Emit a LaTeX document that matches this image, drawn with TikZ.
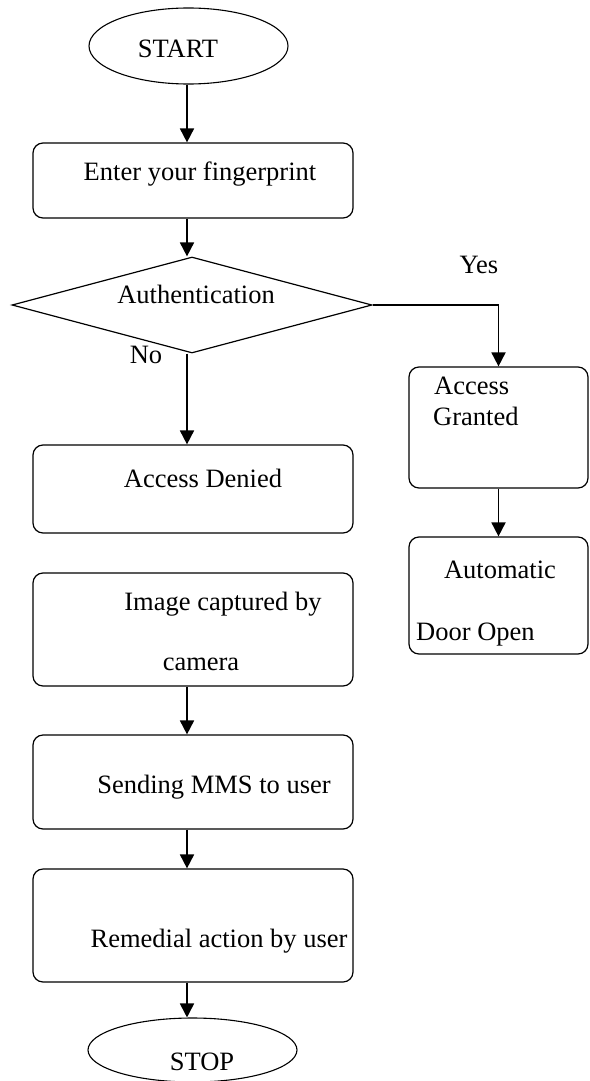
\documentclass[tikz,border=0pt]{standalone}
\usepackage{fontspec}
\setmainfont{Liberation Serif}
\usetikzlibrary{shapes.geometric,arrows.meta}
\tikzset{
  box/.style={draw, line width=1.2pt, rounded corners=10pt, inner sep=0pt},
  oval/.style={draw, ellipse, line width=1.1pt, inner sep=0pt},
  decision/.style={draw, diamond, line width=1.2pt, inner sep=0pt},
  txt/.style={font=\fontsize{26.5}{31}\selectfont, inner sep=0pt, anchor=base},
  txtl/.style={txt, anchor=base west},
  arr/.style={line width=1.8pt, -{Triangle[width=14pt,length=14pt]}},
}
\begin{document}
\begin{tikzpicture}[x=1pt,y=-1pt]
\useasboundingbox[fill=white] (0,0) rectangle (589,1081);
\coordinate (colx) at (187,0);
% shapes
\node[oval, minimum width=199pt, minimum height=76pt] (start) at (188.5,46) {};
\node[box, minimum width=320pt, minimum height=75pt] (enter) at (193,180.5) {};
\node[decision, minimum width=360pt, minimum height=96pt] (dia) at (192,305) {};
\node[box, minimum width=179pt, minimum height=121pt] (granted) at (498.5,427.5) {};
\node[box, minimum width=179pt, minimum height=117pt] (auto) at (498.5,595.5) {};
\node[box, minimum width=320pt, minimum height=88pt] (denied) at (193,489) {};
\node[box, minimum width=320pt, minimum height=113pt] (image) at (193,629.5) {};
\node[box, minimum width=320pt, minimum height=94pt] (send) at (193,782) {};
\node[box, minimum width=320pt, minimum height=113pt] (remedy) at (193,925.5) {};
\node[oval, minimum width=209pt, minimum height=64pt] (stop) at (192.5,1050) {};
% texts
\node[txt] (tstart) at (178,58) {START};
\node[txt] (tenter) at (200,180) {Enter your fingerprint};
\node[txt] (tauth) at (196,303) {Authentication};
\node[txt] (tyes) at (479,273) {Yes};
\node[txt] (tno) at (146,363) {No};
\node[txtl] (tacc) at (434,394) {Access};
\node[txtl] (tgra) at (433,425) {Granted};
\node[txt] (tautom) at (500,578) {Automatic};
\node[txtl] (tdoor) at (416,640) {Door Open};
\node[txt] (tdenied) at (203,487) {Access Denied};
\node[txt] (timage) at (223,610) {Image captured by};
\node[txt] (tcam) at (201,670) {camera};
\node[txt] (tsend) at (214,793) {Sending MMS to user};
\node[txt] (tremedy) at (219,947) {Remedial action by user};
\node[txt] (tstop) at (202,1070) {STOP};
% connectors
\draw[arr] (start.south -| colx) -- (enter.north -| colx);
\draw[arr] (enter.south -| colx) -- (dia.north -| colx);
\draw[arr] (dia.east) -| (granted.north);
\draw[arr] (dia.south -| colx) -- (denied.north -| colx);
\draw[arr] (granted.south) -- (auto.north);
\draw[arr] (image.south -| colx) -- (send.north -| colx);
\draw[arr] (send.south -| colx) -- (remedy.north -| colx);
\draw[arr] (remedy.south -| colx) -- (stop.north -| colx);
\end{tikzpicture}
\end{document}
